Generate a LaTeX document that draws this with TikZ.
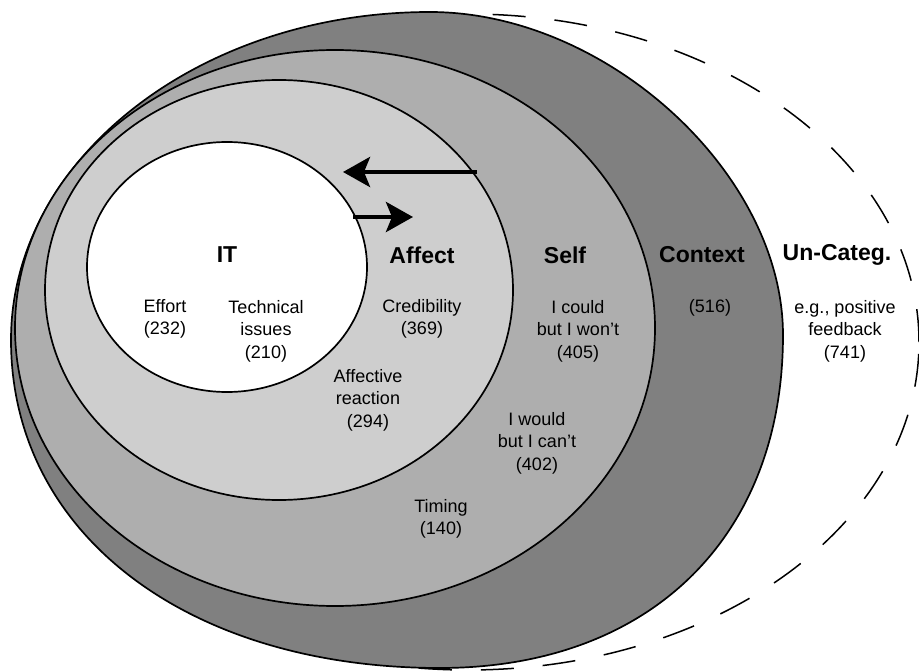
\documentclass[tikz,border=0pt]{standalone}
\usepackage{fontspec}
\setmainfont{Liberation Sans}
\usetikzlibrary{arrows.meta}
\definecolor{ctxgray}{RGB}{128,128,128}
\definecolor{selfgray}{RGB}{174,174,174}
\definecolor{affgray}{RGB}{206,206,206}
\begin{document}
\begin{tikzpicture}[x=1pt,y=-1pt,
  ring/.style={draw=black,line width=1.7pt},
  dashring/.style={draw=black,line width=1.5pt,dash pattern=on 33pt off 29pt},
  head/.style={font=\fontsize{23}{27}\selectfont\bfseries,inner sep=0pt},
  lbl/.style={font=\fontsize{18}{22.6}\selectfont,align=center,inner sep=0pt},
  bigarrow/.style={line width=4.5pt,-{Stealth[length=27pt,width=30pt,inset=6pt]}}]
\useasboundingbox (0,0) rectangle (919,671);
% rings
\draw[dashring] (468,342) ellipse [x radius=451pt, y radius=328pt];
\coordinate (cT) at (430,12);
\coordinate (cR) at (783,335);
\coordinate (cB) at (440,668);
\coordinate (cL) at (11,340);
\draw[ring,fill=ctxgray] (cT)
  .. controls (606.5,12) and (783,173.5) .. (cR)
  .. controls (783,538) and (649,668) .. (cB)
  .. controls (187,668) and (11,533.5) .. (cL)
  .. controls (11,159) and (199,12) .. (cT) -- cycle;
\draw[ring,fill=selfgray] (335,328) ellipse [x radius=320pt, y radius=278pt];
\draw[ring,fill=affgray] (279,290) ellipse [x radius=234pt, y radius=210pt];
\draw[ring,fill=white] (227,267) ellipse [x radius=140pt, y radius=125pt];
% arrows
\coordinate (a1s) at (477,172);
\coordinate (a1e) at (343,172);
\coordinate (a2s) at (353,217);
\coordinate (a2e) at (413,217);
\draw[bigarrow] (a1s) -- (a1e);
\draw[bigarrow] (a2s) -- (a2e);
% headings
\node[head] (it) at (227,255) {IT};
\node[head] (affect) at (422,255) {Affect};
\node[head] (self) at (565,255) {Self};
\node[head] (context) at (702,255) {Context};
\node[head] (uncat) at (837,255) {Un-Categ.};
% labels
\node[lbl] (effort) at (165,319) {Effort\\(232)};
\node[lbl] (tech) at (266,331) {Technical\\issues\\(210)};
\node[lbl] (cred) at (422,319) {Credibility\\(369)};
\node[lbl] (could) at (578,331) {I could\\but I won’t\\(405)};
\node[lbl] (ctxn) at (710,308) {(516)};
\node[lbl] (eg) at (845,331) {e.g., positive\\feedback\\(741)};
\node[lbl] (affr) at (368,400) {Affective\\reaction\\(294)};
\node[lbl] (would) at (537,443) {I would\\but I can’t\\(402)};
\node[lbl] (timing) at (441,519) {Timing\\(140)};
\end{tikzpicture}
\end{document}
